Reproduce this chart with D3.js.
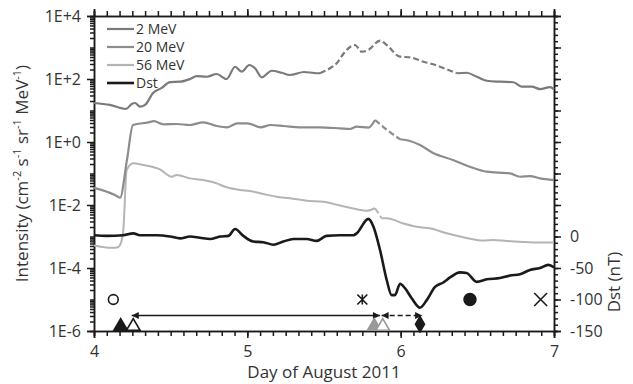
<!DOCTYPE html>
<html>
<head>
<meta charset="utf-8">
<title>Intensity and Dst, August 2011</title>
<style>
body { margin: 0; background: #fff; }
svg { display: block; font-family: 'Open Sans', sans-serif; }
.axis path, .axis line { stroke: #1a1a1a; stroke-width: 1.5; }
.axis text { font-size: 16px; fill: #333; font-family: 'Open Sans', sans-serif; }
.title { font-size: 17px; fill: #333; }
.legend text { font-size: 14px; fill: #333; }
</style>
<script src="https://cdn.jsdelivr.net/npm/d3@7"></script>
</head>
<body>
<script>
var width = 633, height = 384;
var plotLeft = 94, plotRight = 554, plotTop = 16, plotBottom = 331;

// proton channels, day of August 2011 vs intensity
var mev2Days = [4.0, 4.104, 4.209, 4.246, 4.267, 4.300, 4.333, 4.385, 4.442, 4.496, 4.561, 4.626, 4.670, 4.735, 4.800, 4.865, 4.920, 4.963, 5.013, 5.050, 5.094, 5.159, 5.224, 5.278, 5.370, 5.435, 5.474, 5.539, 5.583, 5.637, 5.702, 5.746, 5.789, 5.865, 5.909, 5.996, 6.061, 6.148, 6.213, 6.300, 6.366, 6.431, 6.496, 6.561, 6.648, 6.735, 6.789, 6.855, 6.909, 6.974, 7.0];
var mev2Flux = [17.3, 15.0, 11.2, 16.1, 17.3, 13.2, 15.0, 36, 52, 80, 82, 100, 124, 118, 144, 100, 245, 171, 278, 219, 113, 183, 158, 134, 167, 155, 152, 219, 315, 736, 1200, 736, 834, 1645, 1200, 511, 489, 354, 293, 203, 152, 158, 118, 88, 82, 79, 57, 57, 48, 55, 47];
var mev2Dashed = [5.474, 6.366];

var mev20Days = [4.0, 4.137, 4.170, 4.215, 4.254, 4.354, 4.391, 4.452, 4.539, 4.626, 4.713, 4.800, 4.869, 4.935, 5.000, 5.087, 5.152, 5.239, 5.348, 5.474, 5.604, 5.670, 5.713, 5.789, 5.833, 5.911, 5.996, 6.061, 6.126, 6.211, 6.341, 6.452, 6.561, 6.713, 6.778, 6.843, 6.909, 7.0];
var mev20Flux = [0.035, 0.0207, 0.017, 0.27, 3.47, 4.2, 4.6, 3.65, 3.73, 3.47, 4.2, 3.22, 2.93, 3.92, 3.92, 2.93, 3.47, 3.22, 2.93, 2.93, 2.72, 2.59, 3.06, 2.85, 4.99, 2.41, 1.22, 1.08, 0.80, 0.45, 0.27, 0.164, 0.114, 0.101, 0.079, 0.083, 0.070, 0.062];
var mev20Dashed = [5.833, 5.996];

var mev56Days = [4.0, 4.115, 4.150, 4.170, 4.191, 4.213, 4.256, 4.322, 4.430, 4.507, 4.539, 4.626, 4.735, 4.789, 4.865, 4.952, 5.017, 5.104, 5.191, 5.278, 5.387, 5.495, 5.604, 5.713, 5.778, 5.833, 5.876, 5.909, 6.017, 6.126, 6.191, 6.300, 6.409, 6.539, 6.604, 6.691, 6.778, 6.865, 7.0];
var mev56Flux = [5.2e-4, 4.4e-4, 4.5e-4, 5.4e-4, 1.6e-3, 0.129, 0.211, 0.186, 0.136, 0.079, 0.0896, 0.070, 0.059, 0.051, 0.0365, 0.030, 0.0278, 0.0223, 0.0183, 0.0163, 0.0137, 0.0127, 0.0096, 0.0073, 0.0066, 0.0079, 0.0038, 0.0038, 0.0026, 0.00196, 0.00182, 0.00126, 9.4e-4, 7.4e-4, 7.7e-4, 7.2e-4, 6.8e-4, 6.4e-4, 6.4e-4];
var mev56Dashed = [5.833, 5.876];

// Dst index (nT), right axis
var dstDays = [4.0, 4.083, 4.191, 4.256, 4.300, 4.409, 4.496, 4.561, 4.626, 4.691, 4.757, 4.822, 4.876, 4.920, 4.974, 5.039, 5.104, 5.170, 5.235, 5.300, 5.387, 5.452, 5.517, 5.604, 5.691, 5.713, 5.789, 5.822, 5.865, 5.909, 5.941, 5.963, 5.996, 6.028, 6.072, 6.126, 6.170, 6.224, 6.278, 6.322, 6.387, 6.430, 6.496, 6.561, 6.648, 6.713, 6.778, 6.843, 6.909, 6.963, 7.0];
var dstValues = [2, 1, 2, 5, 2, 2, 0, -3, 0, -2, -4, 0, 1, 12, 1, -8, -9, -13, -8, -4, -4, -7, 1, 2, 2, 5, 28, 16, -21, -69, -93, -93, -75, -82, -98, -113, -101, -80, -73, -65, -57, -58, -72, -68, -66, -62, -60, -53, -50, -45, -49];

// event markers
var markerDays = [4.126, 4.174, 4.256, 5.750, 5.828, 5.883, 6.126, 6.452, 6.913];
var markerLevels = [1e-5, 1.4e-6, 1.4e-6, 1e-5, 1.4e-6, 1.4e-6, 1.65e-6, 1e-5, 1e-5];
var markerKinds = ["circleOpen", "triFill", "triOpen", "asterisk", "triFillGray", "triOpenGray", "diamond", "circleFill", "cross"];

var arrowFrom = [4.246, 5.876];
var arrowTo = [5.865, 6.140];
var arrowLevel = 3.1e-6;
var arrowDashed = [false, true];

var dayTicks = [4, 5, 6, 7];
var fluxTicks = [1e-6, 1e-4, 1e-2, 1e0, 1e2, 1e4];
var dstTicks = [-150, -100, -50, 0];

var svg = d3.select("body").append("svg")
    .attr("width", width)
    .attr("height", height);

var x = d3.scaleLinear().domain([4, 7]).range([plotLeft, plotRight]);
var y = d3.scaleLog().domain([1e-6, 1e4]).range([plotBottom, plotTop]);
var yDst = d3.scaleLinear().domain([-150, 350]).range([plotBottom, plotTop]);

// minor ticks
var minorDays = d3.range(4, 7.0001, 1 / 12);
var minorFlux = [];
for (var e = -6; e < 4; e++) {
    for (var k = 1; k < 10; k++) {
        if (!(k == 1 && e % 2 == 0)) minorFlux.push(k * Math.pow(10, e));
    }
}
var minorDst = d3.range(-150, 351, 10);

svg.append("g").attr("class", "axis")
    .attr("transform", "translate(0," + plotBottom + ")")
    .call(d3.axisBottom(x).tickValues(minorDays).tickSize(5).tickFormat(""));
svg.append("g").attr("class", "axis")
    .attr("transform", "translate(0," + plotBottom + ")")
    .call(d3.axisBottom(x).tickValues(dayTicks).tickSize(7).tickPadding(8).tickFormat(d3.format("d")));
svg.append("g").attr("class", "axis")
    .attr("transform", "translate(0," + plotTop + ")")
    .call(d3.axisTop(x).tickValues(minorDays).tickSize(5).tickFormat(""));
svg.append("g").attr("class", "axis")
    .attr("transform", "translate(0," + plotTop + ")")
    .call(d3.axisTop(x).tickValues(dayTicks).tickSize(7).tickFormat(""));

function fluxLabel(d) {
    var p = Math.round(Math.log10(d));
    return "1E" + (p >= 0 ? "+" : "") + p;
}
svg.append("g").attr("class", "axis")
    .attr("transform", "translate(" + plotLeft + ",0)")
    .call(d3.axisLeft(y).tickValues(minorFlux).tickSize(4).tickFormat(""));
svg.append("g").attr("class", "axis")
    .attr("transform", "translate(" + plotLeft + ",0)")
    .call(d3.axisLeft(y).tickValues(fluxTicks).tickSize(7).tickPadding(6).tickFormat(fluxLabel));

svg.append("g").attr("class", "axis")
    .attr("transform", "translate(" + plotRight + ",0)")
    .call(d3.axisRight(yDst).tickValues(minorDst).tickSize(4).tickFormat(""));
svg.append("g").attr("class", "axis")
    .attr("transform", "translate(" + plotRight + ",0)")
    .call(d3.axisRight(yDst).tickValues(d3.range(-150, 351, 50)).tickSize(7).tickPadding(9)
        .tickFormat(function (d) { return dstTicks.indexOf(d) >= 0 ? d : ""; }));

// series
var line = d3.line().curve(d3.curveMonotoneX);

function drawSeries(days, vals, yScale, dashed, color, w) {
    var pts = days.map(function (d, i) { return [x(d), yScale(vals[i])]; });
    if (!dashed) {
        svg.append("path").attr("d", line(pts))
            .attr("fill", "none").attr("stroke", color).attr("stroke-width", w);
        return;
    }
    var a = pts.filter(function (p, i) { return days[i] <= dashed[0]; });
    var b = pts.filter(function (p, i) { return days[i] >= dashed[0] && days[i] <= dashed[1]; });
    var c = pts.filter(function (p, i) { return days[i] >= dashed[1]; });
    [a, c].forEach(function (seg) {
        svg.append("path").attr("d", line(seg))
            .attr("fill", "none").attr("stroke", color).attr("stroke-width", w);
    });
    svg.append("path").attr("d", line(b))
        .attr("fill", "none").attr("stroke", color).attr("stroke-width", w)
        .attr("stroke-dasharray", "6,3");
}

drawSeries(mev56Days, mev56Flux, y, mev56Dashed, "#b4b4b4", 2);
drawSeries(mev20Days, mev20Flux, y, mev20Dashed, "#8c8c8c", 2.2);
drawSeries(mev2Days, mev2Flux, y, mev2Dashed, "#7a7a7a", 2.2);
drawSeries(dstDays, dstValues, yDst, null, "#1a1a1a", 2.6);

// arrows
var defs = svg.append("defs");
defs.append("marker")
    .attr("id", "head")
    .attr("viewBox", "0 0 10 10")
    .attr("refX", 10).attr("refY", 5)
    .attr("markerWidth", 9).attr("markerHeight", 7)
    .attr("markerUnits", "userSpaceOnUse")
    .attr("orient", "auto-start-reverse")
    .append("path").attr("d", "M0,0L10,5L0,10Z").attr("fill", "#1a1a1a");

arrowFrom.forEach(function (d, i) {
    svg.append("line")
        .attr("x1", x(d)).attr("x2", x(arrowTo[i]))
        .attr("y1", y(arrowLevel)).attr("y2", y(arrowLevel))
        .attr("stroke", "#1a1a1a").attr("stroke-width", 1.6)
        .attr("stroke-dasharray", arrowDashed[i] ? "5,3" : null)
        .attr("marker-start", "url(#head)")
        .attr("marker-end", "url(#head)");
});

// markers
var asteriskPath = {
    draw: function (ctx, size) {
        var r = Math.sqrt(size) / 2;
        ctx.moveTo(0, -r); ctx.lineTo(0, r);
        ctx.moveTo(-r, -r); ctx.lineTo(r, r);
        ctx.moveTo(-r, r); ctx.lineTo(r, -r);
    }
};
var markerStyle = {
    circleOpen: { type: d3.symbolCircle, size: 75, fill: "none", stroke: "#1a1a1a" },
    triFill: { type: d3.symbolTriangle, size: 80, fill: "#1a1a1a", stroke: "#1a1a1a" },
    triOpen: { type: d3.symbolTriangle, size: 80, fill: "#fff", stroke: "#1a1a1a" },
    asterisk: { type: asteriskPath, size: 100, fill: "none", stroke: "#1a1a1a" },
    triFillGray: { type: d3.symbolTriangle, size: 80, fill: "#999", stroke: "#999" },
    triOpenGray: { type: d3.symbolTriangle, size: 80, fill: "#fff", stroke: "#999" },
    diamond: { type: d3.symbolDiamond, size: 70, fill: "#1a1a1a", stroke: "#1a1a1a" },
    circleFill: { type: d3.symbolCircle, size: 110, fill: "#1a1a1a", stroke: "#1a1a1a" },
    cross: { type: d3.symbolTimes, size: 110, fill: "none", stroke: "#1a1a1a" }
};
markerDays.forEach(function (d, i) {
    var s = markerStyle[markerKinds[i]];
    svg.append("path")
        .attr("transform", "translate(" + x(d) + "," + y(markerLevels[i]) + ")")
        .attr("d", d3.symbol().type(s.type).size(s.size)())
        .attr("fill", s.fill).attr("stroke", s.stroke).attr("stroke-width", 1.6);
});

// legend
var legendNames = ["2 MeV", "20 MeV", "56 MeV", "Dst"];
var legendColors = ["#7a7a7a", "#8c8c8c", "#b4b4b4", "#1a1a1a"];
var legend = svg.append("g").attr("class", "legend");
legendNames.forEach(function (n, i) {
    var ly = 29 + i * 18;
    legend.append("line").attr("x1", 107).attr("x2", 134).attr("y1", ly).attr("y2", ly)
        .attr("stroke", legendColors[i]).attr("stroke-width", i == 3 ? 2.6 : 2.2);
    legend.append("text").attr("x", 136).attr("y", ly).attr("dy", "0.35em").text(n);
});

// titles
svg.append("text").attr("class", "title")
    .attr("x", (plotLeft + plotRight) / 2).attr("y", 378)
    .attr("text-anchor", "middle")
    .text("Day of August 2011");

svg.append("text").attr("class", "title")
    .attr("transform", "translate(" + 620 + "," + 282 + ") rotate(-90)")
    .attr("text-anchor", "middle")
    .text("Dst (nT)");

var yt = svg.append("text").attr("class", "title")
    .attr("transform", "translate(" + 28 + "," + ((plotTop + plotBottom) / 2) + ") rotate(-90)")
    .attr("text-anchor", "middle");
var parts = [["Intensity (cm", false], ["-2", true], [" s", false], ["-1", true], [" sr", false], ["-1", true], [" MeV", false], ["-1", true], [")", false]];
parts.forEach(function (p) {
    yt.append("tspan")
        .attr("baseline-shift", p[1] ? "super" : null)
        .attr("font-size", p[1] ? "11px" : null)
        .text(p[0]);
});
</script>
</body>
</html>
